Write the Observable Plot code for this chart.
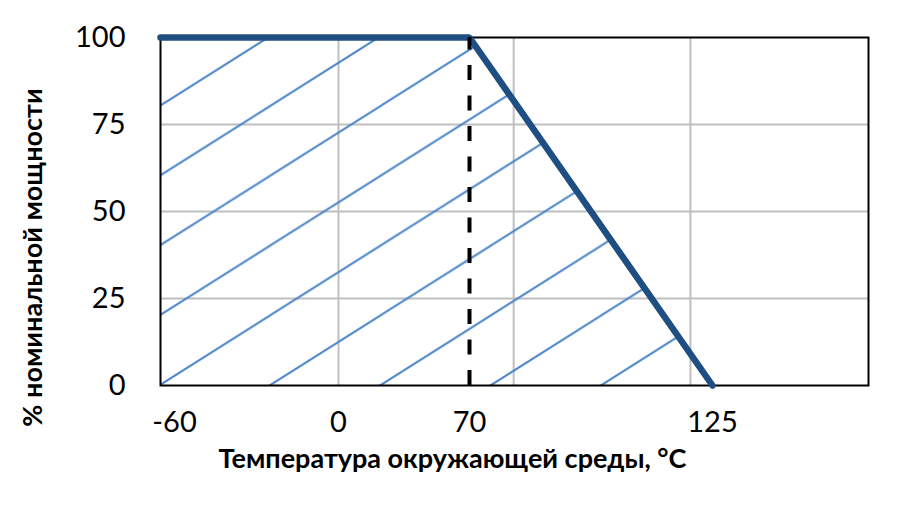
<!DOCTYPE html>
<html>
<head>
<meta charset="utf-8">
<script src="https://cdn.jsdelivr.net/npm/d3@7"></script>
<script src="https://cdn.jsdelivr.net/npm/@observablehq/plot@0.6"></script>
<style>
  html, body { margin: 0; padding: 0; background: #fff; }
  #chart { width: 897px; height: 509px; }
</style>
</head>
<body>
<div id="chart"></div>
<script>
// ---- data ----
const xTicks = [-60, 0, 70, 125];
const xTickLabels = ["-60", "0", "70", "125"];
const yTicks = [0, 25, 50, 75, 100];
const xGrid = [0, 80, 120];
const curveTemp = [-60, 70, 125];
const curvePower = [100, 100, 0];
const kneeTemp = 70;
const xTitle = "Температура окружающей среды, °C";
const yTitle = "% номинальной мощности";

const curve = curveTemp.map((t, i) => ({t, p: curvePower[i]}));

// the reference axis is not uniform: temperature -> axis position (piecewise)
const axisStops = [-60, 0, 70, 125, 180];
const axisPos = [0, 178, 309, 552, 708];
const tempToPos = d3.scaleLinear().domain(axisStops).range(axisPos);

// hatch pattern (Excel-style diagonal fill)
function hatchDefs(index, scales, values, dimensions) {
  const ns = "http://www.w3.org/2000/svg";
  const W = 110.4, H = 69.8;
  const defs = document.createElementNS(ns, "defs");
  const pat = document.createElementNS(ns, "pattern");
  pat.setAttribute("id", "hatch");
  pat.setAttribute("patternUnits", "userSpaceOnUse");
  pat.setAttribute("x", dimensions.marginLeft);
  pat.setAttribute("y", dimensions.height - dimensions.marginBottom);
  pat.setAttribute("width", W);
  pat.setAttribute("height", H);
  const path = document.createElementNS(ns, "path");
  let d = "";
  for (const k of [-1, 0, 1]) {
    d += `M${-W},${2 * H + k * H}L${2 * W},${-H + k * H}`;
  }
  path.setAttribute("d", d);
  path.setAttribute("stroke", "#4a84c6");
  path.setAttribute("stroke-width", 2);
  path.setAttribute("fill", "none");
  pat.appendChild(path);
  defs.appendChild(pat);
  return defs;
}

const fmt = (d) => xTickLabels[xTicks.indexOf(d)];

const chart = Plot.plot({
  width: 897,
  height: 509,
  marginLeft: 160,
  marginRight: 29,
  marginTop: 37,
  marginBottom: 124,
  style: {fontFamily: "Lato, 'Open Sans', sans-serif", fontSize: "29px", color: "#000", background: "#fff"},
  x: {type: "linear", transform: tempToPos, domain: [axisPos[0], axisPos[axisPos.length - 1]]},
  y: {domain: [0, 100]},
  marks: [
    hatchDefs,
    Plot.gridY(yTicks.slice(1, -1), {stroke: "#bfbfbf", strokeOpacity: 1, strokeWidth: 2}),
    Plot.gridX(xGrid, {stroke: "#bfbfbf", strokeOpacity: 1, strokeWidth: 2}),
    Plot.areaY(curve, {x: "t", y: "p", fill: "url(#hatch)"}),
    Plot.frame({stroke: "#000", strokeWidth: 2}),
    Plot.line(curve, {x: "t", y: "p", stroke: "#1f4e82", strokeWidth: 6.5, strokeLinejoin: "miter"}),
    Plot.ruleX([kneeTemp], {y1: 0, y2: 100, stroke: "#000", strokeWidth: 4, strokeDasharray: "15,15.5"}),
    Plot.axisY(yTicks, {tickSize: 0, tickPadding: 35, label: null, fontSize: 29}),
    Plot.axisX([xTicks[0]], {tickSize: 0, tickPadding: 26, label: null, fontSize: 29, tickFormat: fmt, dx: 14}),
    Plot.axisX(xTicks.slice(1), {tickSize: 0, tickPadding: 26, label: null, fontSize: 29, tickFormat: fmt}),
    Plot.text([xTitle], {frameAnchor: "bottom", textAnchor: "middle", dx: -62, dy: 74, lineAnchor: "middle", fontWeight: "bold", fontSize: 27}),
    Plot.text([yTitle], {frameAnchor: "left", textAnchor: "middle", rotate: -90, dx: -127, dy: 46, lineAnchor: "middle", fontWeight: "bold", fontSize: 27})
  ]
});
document.getElementById("chart").appendChild(chart);
</script>
</body>
</html>
